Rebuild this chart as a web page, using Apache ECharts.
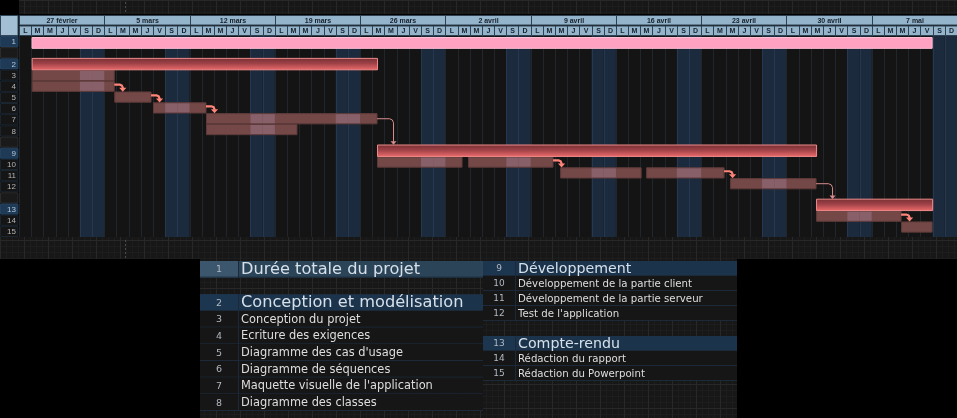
<!DOCTYPE html>
<html><head><meta charset="utf-8">
<script src="https://cdn.jsdelivr.net/npm/echarts@6/dist/echarts.min.js"></script>
<style>html,body{margin:0;padding:0;background:#000;}#c{width:957px;height:418px;}</style>
</head><body><div id="c"></div>
<script>
// ---- data ----
const weekLabels = ['27 février','5 mars','12 mars','19 mars','26 mars','2 avril','9 avril','16 avril','23 avril','30 avril','7 mai'];
const dayLetters = ['L','M','M','J','V','S','D'];
const taskIds = [1,2,3,4,5,6,7,8,9,10,11,12,13,14,15];
const taskNames = ['Durée totale du projet','Conception et modélisation','Conception du projet','Ecriture des exigences',"Diagramme des cas d'usage",'Diagramme de séquences',"Maquette visuelle de l'application",'Diagramme des classes','Développement','Développement de la partie client','Développement de la partie serveur',"Test de l'application",'Compte-rendu','Rédaction du rapport','Rédaction du Powerpoint'];
const taskLevel = [0,1,2,2,2,2,2,2,1,2,2,2,1,2,2];      // 0 projet, 1 groupe, 2 tâche
const taskSlots = [0,2,3,4,5,6,7,8,10,11,12,13,15,16,17]; // ligne dans le planning
// segments (jours depuis le lundi 27 février)
const segTask  = [1,2,3,4,5,6,7,8,9,10,10,11,11,12,13,14,15];
const segStart = [1.07,1.04,1.04,1.04,7.82,11.0,15.35,15.35,29.39,29.39,36.86,44.42,51.48,58.37,65.43,65.43,72.41];
const segEnd   = [74.96,29.39,7.82,7.82,10.84,15.35,29.39,22.82,65.43,36.37,43.84,51.07,57.88,65.43,74.96,72.41,74.96];
// dépendances
const linkFrom = [4,5,6,7,10,11,12,14];
const linkTo   = [5,6,7,9,11,12,13,15];
const leftTableCount = 8;

// ---- derived ----
const DAYS = weekLabels.length * 7;
const SLOTS = taskSlots[taskSlots.length-1] + 1;
const dayIdx = Array.from({length: DAYS}, (_, i) => i);
const isWeekend = d => d % 7 >= 5;
const FONT = "'Liberation Sans', Arial, sans-serif";
const TFONT = "'DejaVu Sans', Verdana, sans-serif";

// texture tile for background panels
const tile = document.createElement('canvas'); tile.width = 24; tile.height = 24;
(function(){const g = tile.getContext('2d'); g.fillStyle='#171717'; g.fillRect(0,0,24,24);
 g.fillStyle='#1d1d1d'; for(let k=0;k<24;k+=6){g.fillRect(k,0,1,24);g.fillRect(0,k,24,1);}
 g.fillStyle='#282828'; g.fillRect(0,0,1,24); g.fillRect(0,0,24,1);})();
const texture = {image: tile, repeat: 'repeat'};

const chart = echarts.init(document.getElementById('c'));

function renderDayLine(params, api){
  const d = api.value(0);
  const a = api.coord([d, 0]), b = api.coord([d, SLOTS]);
  const x = Math.round(a[0]) + 0.5;
  return {type:'line', shape:{x1:x,y1:a[1],x2:x,y2:b[1]}, style:{stroke: isWeekend(d) ? '#25384f' : '#21262d', lineWidth:1}};
}
function renderWeekend(params, api){
  const d = api.value(0);
  const a = api.coord([d, 0]), b = api.coord([d+1, SLOTS]);
  return {type:'rect', shape:{x:a[0], y:a[1], width:b[0]-a[0], height:b[1]-a[1]}, style:{fill:'#1c2a3d'}};
}
function renderBar(params, api){
  const s = api.value(0), e = api.value(1), slot = api.value(2), t = api.value(3) - 1;
  const lv = taskLevel[t];
  const a = api.coord([s, slot]), b = api.coord([e, slot+1]);
  const h = b[1]-a[1];
  if (lv === 0) {
    return {type:'rect', shape:{x:a[0], y:a[1], width:b[0]-a[0], height:h}, style:{fill:'#ffa1c1', stroke:'#ffbfd5', lineWidth:1}};
  }
  if (lv === 1) {
    return {type:'rect', shape:{x:a[0]+0.5, y:a[1]-0.8, width:b[0]-a[0], height:h+0.6},
      style:{fill:new echarts.graphic.LinearGradient(0,0,0,1,[{offset:0,color:'#762f33'},{offset:0.45,color:'#9f4248'},{offset:1,color:'#ef6c6c'}]), stroke:'#f08a8a', lineWidth:1}};
  }
  const y0 = a[1]+0.3, hh = h-0.6;
  const children = [{type:'rect', shape:{x:a[0]+0.5, y:y0, width:b[0]-a[0]-0.5, height:hh}, style:{fill:'#734846'}}];
  for (let d = Math.floor(s); d < e; d++) {
    if (!isWeekend(d)) continue;
    const p = api.coord([Math.max(s, d), slot]), q = api.coord([Math.min(e, d+1), slot]);
    children.push({type:'rect', shape:{x:p[0], y:y0, width:q[0]-p[0], height:hh}, style:{fill:'#88606a'}});
  }
  children.push({type:'rect', shape:{x:a[0]+0.5, y:y0, width:b[0]-a[0]-0.5, height:hh}, style:{fill:'none', stroke:'#5e3b3a', lineWidth:1}});
  return {type:'group', children};
}
function renderLink(params, api){
  const i = params.dataIndex;
  const src = linkFrom[i]-1, tgt = linkTo[i]-1;
  let end = -Infinity;
  segTask.forEach((t,k)=>{ if (t-1 === src) end = Math.max(end, segEnd[k]); });
  const thin = taskLevel[tgt] < 2;
  const pS = api.coord([end, taskSlots[src] + (thin ? 0.5 : 0.35)]);
  const pT = api.coord([end, taskSlots[tgt]]);
  const dx = thin ? 16.5 : 8.5, r = thin ? 4 : 3;
  const x0 = pS[0], y0 = pS[1], x1 = x0 + dx, yT = pT[1] - (thin ? 1 : 0);
  const color = thin ? '#d98c8c' : '#ff8479', lw = thin ? 1 : 2.2;
  const hw = thin ? 3 : 3.6, hh = thin ? 3.5 : 4;
  return {type:'group', children:[
    {type:'polyline', shape:{points:[[x0,y0],[x1-r,y0],[x1-r*0.3,y0+r*0.3],[x1,y0+r],[x1,yT-hh+0.5]]}, style:{stroke:color, lineWidth:lw, fill:'none'}},
    {type:'polygon', shape:{points:[[x1-hw,yT-hh],[x1+hw,yT-hh],[x1,yT]]}, style:{fill:color}}
  ]};
}
function renderHeader(row, rows){
  return function(params, api){
    const s = api.value(0), e = api.value(1);
    const label = rows[params.dataIndex][2];
    const a = api.coord([s, row]), b = api.coord([e, row+1]);
    const x0 = Math.round(a[0]) + 0.5, x1 = Math.round(b[0]) + 0.5;
    return {type:'group', children:[
      {type:'rect', shape:{x:x0, y:a[1]+0.5, width:x1-x0, height:b[1]-a[1]-1}, style:{fill:'#94b4cb', stroke:'#2f4051', lineWidth:1}},
      {type:'text', x:(x0+x1)/2, y:(a[1]+b[1])/2+0.5, style:{text:label, fill:'#16202b', font:'bold 7px '+FONT, align:'center', verticalAlign:'middle'}}
    ]};
  };
}
function renderNumCol(params, api){
  const slot = api.value(0);
  const t = taskSlots.indexOf(slot);
  const a = api.coord([0, slot]), b = api.coord([1, slot+1]);
  const shape = {x:0.5, y:a[1]+0.5, width:b[0]-a[0]-1.5, height:b[1]-a[1]-1};
  if (t < 0) return {type:'rect', shape, style:{fill:'#1a1a1a', stroke:'#2c2c2c', lineWidth:1}};
  const head = taskLevel[t] < 2;
  return {type:'group', children:[
    {type:'rect', shape, style:{fill: head ? '#1e3a56' : '#151515', stroke: head ? '#24425f' : '#1b2530', lineWidth:1}},
    {type:'text', x:b[0]-3, y:(a[1]+b[1])/2+0.5, style:{text:String(taskIds[t]), fill: head ? '#b6c8d8' : '#b4b4b4', font:'8px '+FONT, align:'right', verticalAlign:'middle'}}
  ]};
}
function renderTable(numW, offset, bigSize, smallSize, numSize){
  return function(params, api){
    const t = api.value(0) - 1;
    const slot = taskSlots[t] - offset;
    const a = api.coord([0, slot]), b = api.coord([1, slot+1]);
    const lv = taskLevel[t];
    const rowFill = lv === 0 ? '#2b4458' : (lv === 1 ? '#1b334b' : '#161616');
    const numFill = lv === 0 ? '#3b566d' : (lv === 1 ? '#1d3650' : '#161616');
    const big = lv < 2;
    const ym = (a[1]+b[1])/2;
    return {type:'group', children:[
      {type:'rect', shape:{x:a[0], y:a[1], width:b[0]-a[0], height:b[1]-a[1]}, style:{fill:rowFill}},
      {type:'rect', shape:{x:a[0], y:a[1], width:numW, height:b[1]-a[1]}, style:{fill:numFill}},
      {type:'line', shape:{x1:a[0], y1:b[1]-0.5, x2:b[0], y2:b[1]-0.5}, style:{stroke:'#1b2938', lineWidth:1}},
      {type:'line', shape:{x1:a[0]+numW+0.5, y1:a[1], x2:a[0]+numW+0.5, y2:b[1]}, style:{stroke:'#1b2938', lineWidth:1}},
      {type:'text', x:a[0]+numW/2, y:ym+0.5, style:{text:String(taskIds[t]), fill:'#b0b8c0', font:numSize+'px '+TFONT, align:'center', verticalAlign:'middle'}},
      {type:'text', x:a[0]+numW+3, y:ym+(big?0.5:0.5), style:{text:taskNames[t], fill: big ? '#d6e0ea' : '#dedede', font:(big?bigSize:smallSize)+'px '+TFONT, align:'left', verticalAlign:'middle'}}
    ]};
  };
}

const segData = segStart.map((s,i)=>[s, segEnd[i], taskSlots[segTask[i]-1], segTask[i]]);
const weekData = weekLabels.map((l,i)=>[i*7, i*7+7, l]);
const dayData = dayIdx.map(d=>[d, d+1, dayLetters[d%7]]);
const weekendData = dayIdx.filter(isWeekend).map(d=>[d]);
const leftIds = taskIds.slice(0, leftTableCount).map(id=>[id]);
const rightIds = taskIds.slice(leftTableCount).map(id=>[id]);
const slotData = Array.from({length: SLOTS}, (_, s) => [s]);

const option = {
  backgroundColor:'#000',
  animation:false,
  graphic:[
    {type:'rect', z:0, shape:{x:19, y:0, width:938, height:14}, style:{fill:texture}, silent:true},
    {type:'rect', z:0, shape:{x:0, y:237, width:957, height:22}, style:{fill:texture}, silent:true},
    {type:'rect', z:0, shape:{x:200, y:259, width:537, height:159}, style:{fill:texture}, silent:true},
    {type:'line', z:1, shape:{x1:125.5, y1:2, x2:125.5, y2:14}, style:{stroke:'#4a4a4a', lineWidth:1, lineDash:[2,2]}, silent:true},
    {type:'line', z:1, shape:{x1:125.5, y1:240, x2:125.5, y2:258}, style:{stroke:'#4a4a4a', lineWidth:1, lineDash:[2,2]}, silent:true},
    {type:'rect', z:10, shape:{x:0.5, y:15.5, width:17.5, height:20}, style:{fill:'#a2bfd4', stroke:'#33475a', lineWidth:1}, silent:true}
  ],
  grid:[
    {left:19, top:36, width:938, height:201, show:true, backgroundColor:'#141414', borderWidth:0},
    {left:19, top:15, width:938, height:21},
    {left:0, top:36, width:19, height:201},
    {left:200, top:261, width:283, height:150},
    {left:483, top:261, width:254, height:120}
  ],
  xAxis:[
    {type:'value', gridIndex:0, min:0, max:DAYS, show:false},
    {type:'value', gridIndex:1, min:0, max:DAYS, show:false},
    {type:'value', gridIndex:2, min:0, max:1, show:false},
    {type:'value', gridIndex:3, min:0, max:1, show:false},
    {type:'value', gridIndex:4, min:0, max:1, show:false}
  ],
  yAxis:[
    {type:'value', gridIndex:0, min:-0.14, max:18.42, inverse:true, show:false},
    {type:'value', gridIndex:0, min:0, max:SLOTS, inverse:true, show:false},
    {type:'value', gridIndex:1, min:0, max:2, inverse:true, show:false},
    {type:'value', gridIndex:2, min:0, max:SLOTS, inverse:true, show:false},
    {type:'value', gridIndex:3, min:0, max:9, inverse:true, show:false},
    {type:'value', gridIndex:4, min:0, max:8, inverse:true, show:false}
  ],
  series:[
    {type:'custom', name:'week-end', xAxisIndex:0, yAxisIndex:1, z:1, data:weekendData, encode:{x:0}, renderItem:renderWeekend, silent:true},
    {type:'custom', name:'jours', xAxisIndex:0, yAxisIndex:1, z:1.5, data:dayData, encode:{x:0}, renderItem:renderDayLine, silent:true},
    {type:'custom', name:'tâches', xAxisIndex:0, yAxisIndex:0, z:2, data:segData.filter(d=>taskLevel[d[3]-1]===2), encode:{x:[0,1], y:2}, renderItem:renderBar},
    {type:'custom', name:'groupes', xAxisIndex:0, yAxisIndex:0, z:4, data:segData.filter(d=>taskLevel[d[3]-1]<2), encode:{x:[0,1], y:2}, renderItem:renderBar},
    {type:'custom', name:'liens', xAxisIndex:0, yAxisIndex:0, z:5, data:linkFrom.map((f,i)=>[f, linkTo[i]]), encode:{x:[], y:[]}, renderItem:renderLink, silent:true},
    {type:'custom', name:'semaines', xAxisIndex:1, yAxisIndex:2, z:5, data:weekData, encode:{x:[0,1]}, renderItem:renderHeader(0, weekData)},
    {type:'custom', name:'jourslettres', xAxisIndex:1, yAxisIndex:2, z:5, data:dayData, encode:{x:[0,1]}, renderItem:renderHeader(1, dayData)},
    {type:'custom', name:'numeros', xAxisIndex:2, yAxisIndex:3, z:5, data:slotData, encode:{y:0}, renderItem:renderNumCol},
    {type:'custom', name:'table1', xAxisIndex:3, yAxisIndex:4, z:5, data:leftIds, encode:{x:[], y:[]}, renderItem:renderTable(38, 0, 16.2, 11.4, 9.5)},
    {type:'custom', name:'table2', xAxisIndex:4, yAxisIndex:5, z:5, data:rightIds, encode:{x:[], y:[]}, renderItem:renderTable(32, taskSlots[leftTableCount], 14.2, 10.2, 9)}
  ]
};
chart.setOption(option);
</script></body></html>
